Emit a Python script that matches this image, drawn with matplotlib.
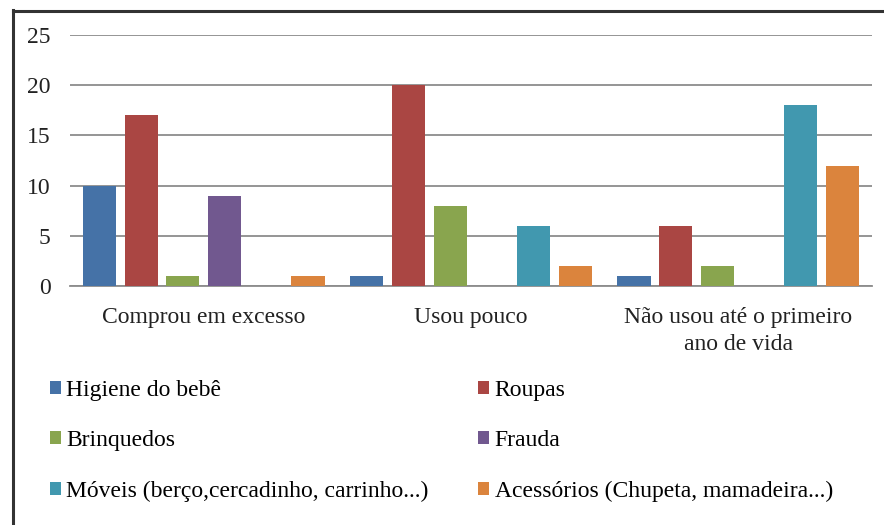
import matplotlib
matplotlib.use("Agg")
import matplotlib.pyplot as plt
import numpy as np
from matplotlib.lines import Line2D
from matplotlib.patches import Patch

plt.rcParams['font.family'] = ['Liberation Serif', 'DejaVu Serif']

categories = ["Comprou em excesso", "Usou pouco", "Não usou até o primeiro\nano de vida"]
series_names = ["Higiene do bebê", "Roupas", "Brinquedos", "Frauda",
                "Móveis (berço,cercadinho, carrinho...)", "Acessórios (Chupeta, mamadeira...)"]
higiene = [10, 1, 1]
roupas = [17, 20, 6]
brinquedos = [1, 8, 2]
frauda = [9, 0, 0]
moveis = [0, 6, 18]
acessorios = [1, 2, 12]
series_values = [higiene, roupas, brinquedos, frauda, moveis, acessorios]
colors = ['#4572A7', '#AA4643', '#89A54E', '#71588F', '#4198AF', '#DB843D']
yticks = [0, 5, 10, 15, 20, 25]

W, H = 884, 525
FS = 17
fig = plt.figure(figsize=(W/100, H/100), dpi=100)
ax = fig.add_axes([70/W, 1-286/H, (872-70)/W, (286-35)/H])

x = np.arange(len(categories))
pitch = 0.156
bw = 0.124
for i, (vals, c) in enumerate(zip(series_values, colors)):
    ax.bar(x + (i-2.5)*pitch, vals, width=bw, color=c, linewidth=0, zorder=3)

ax.set_xlim(-0.5, 2.5)
ax.set_ylim(0, 25)
ax.set_yticks(yticks)
ax.set_yticklabels([str(t) for t in yticks])
ax.set_xticks(x)
ax.set_xticklabels(categories, linespacing=1.38)
ax.tick_params(axis='both', length=0, labelsize=FS, colors='#222222')
ax.tick_params(axis='y', pad=14)
ax.tick_params(axis='x', pad=15)
ax.grid(axis='y', color='#8c8c8c', linewidth=1.3, zorder=0)
for s in ['top', 'right', 'left']:
    ax.spines[s].set_visible(False)
ax.spines['bottom'].set_color('#8c8c8c')
ax.spines['bottom'].set_linewidth(1.3)

handles = [Patch(facecolor=c, edgecolor='none') for c in colors]
order = [0, 2, 4, 1, 3, 5]
fig.legend([handles[k] for k in order], [series_names[k] for k in order],
           ncol=2, loc='upper left', bbox_to_anchor=(50/W, 1-380/H),
           frameon=False, fontsize=FS, handlelength=0.47, handleheight=0.47,
           handletextpad=0.22, labelspacing=1.24, columnspacing=2.1,
           borderaxespad=0, borderpad=0)

fig.add_artist(Line2D([13/W, 13/W], [0, 1-10/H], color='#333333', linewidth=2.2))
fig.add_artist(Line2D([13/W, 1], [1-11/H, 1-11/H], color='#333333', linewidth=2.2))

fig.savefig("out.png", dpi=100, facecolor='white')
